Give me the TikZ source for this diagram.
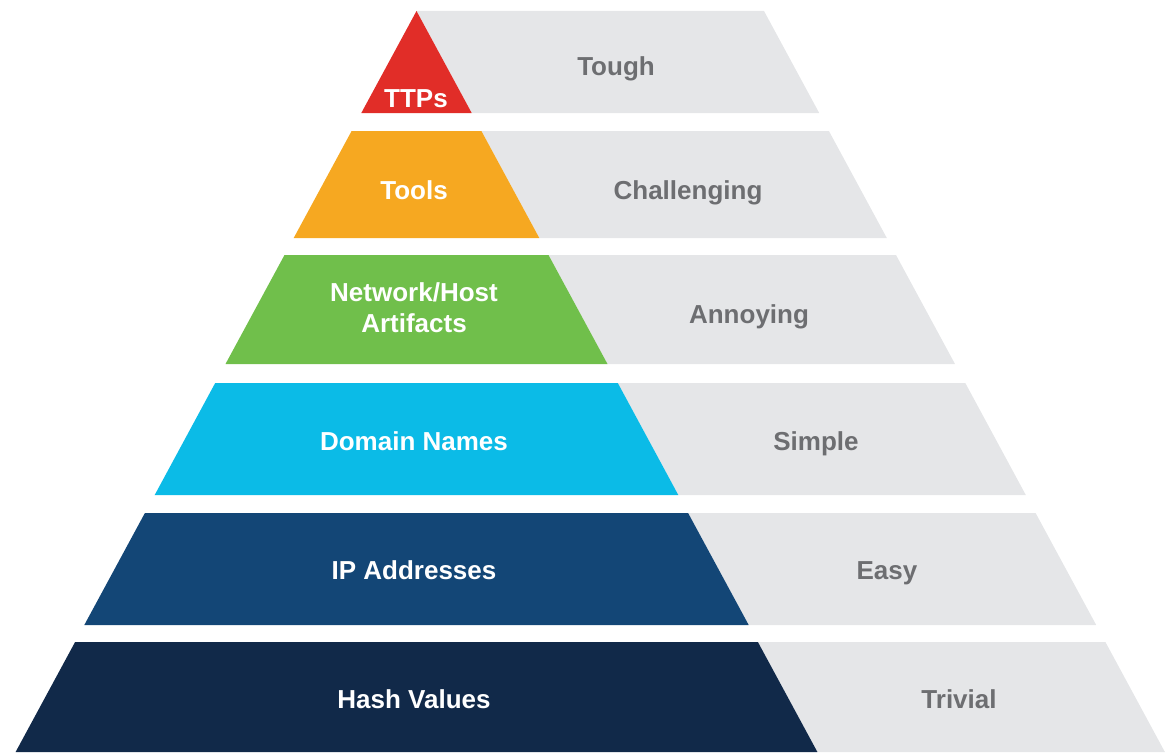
\documentclass[tikz,border=0pt]{standalone}
\usepackage{fontspec}
\setmainfont{Liberation Sans}
\definecolor{cred}{RGB}{225,45,40}
\definecolor{corange}{RGB}{246,168,33}
\definecolor{cgreen}{RGB}{112,191,75}
\definecolor{ccyan}{RGB}{11,187,231}
\definecolor{cblue}{RGB}{19,70,118}
\definecolor{cnavy}{RGB}{17,41,73}
\definecolor{cgray}{RGB}{229,230,232}
\definecolor{ctext}{RGB}{109,110,113}
\tikzset{
  lvl/.style={anchor=base, text=white, font=\fontsize{26}{31}\selectfont\bfseries, inner sep=0pt, align=center},
  diff/.style={anchor=base, text=ctext, font=\fontsize{26}{31}\selectfont\bfseries, inner sep=0pt},
}
\begin{document}
\begin{tikzpicture}[x=1pt,y=-1pt]
\useasboundingbox (0,0) rectangle (1169,752);
% gray backgrounds
\fill[cgray] (416.5,11) -- (764,11) -- (819.2,113) -- (471.7,113) -- cycle;
\fill[cgray] (481.4,131) -- (828.9,131) -- (886.8,238) -- (539.3,238) -- cycle;
\fill[cgray] (548.5,255) -- (896,255) -- (955,364) -- (607.5,364) -- cycle;
\fill[cgray] (617.8,383) -- (965.3,383) -- (1025.8,495) -- (678.3,495) -- cycle;
\fill[cgray] (688.1,513) -- (1035.6,513) -- (1096.2,625) -- (748.7,625) -- cycle;
\fill[cgray] (757.9,642) -- (1105.4,642) -- (1164.9,752) -- (817.4,752) -- cycle;
% coloured levels
\fill[cred] (416.5,11) -- (471.7,113) -- (361.3,113) -- cycle;
\fill[corange] (351.6,131) -- (481.4,131) -- (539.3,238) -- (293.7,238) -- cycle;
\fill[cgreen] (284.5,255) -- (548.5,255) -- (607.5,364) -- (225.5,364) -- cycle;
\fill[ccyan] (215.2,383) -- (617.8,383) -- (678.3,495) -- (154.7,495) -- cycle;
\fill[cblue] (144.9,513) -- (688.1,513) -- (748.7,625) -- (84.3,625) -- cycle;
\fill[cnavy] (75.1,642) -- (757.9,642) -- (817.4,752) -- (15.6,752) -- cycle;
% labels
\node[lvl] (ttps) at (416,107) {TTPs};
\node[diff] (tough) at (616,75) {Tough};
\node[lvl] (tools) at (414,199) {Tools};
\node[diff] (chal) at (688,199) {Challenging};
\node[lvl, anchor=center] (net) at (414,308) {Network/Host\\Artifacts};
\node[diff] (ann) at (749,323) {Annoying};
\node[lvl] (dom) at (414,450) {Domain Names};
\node[diff] (simp) at (816,450) {Simple};
\node[lvl] (ip) at (414,579) {IP Addresses};
\node[diff] (easy) at (887,579) {Easy};
\node[lvl] (hash) at (414,708) {Hash Values};
\node[diff] (triv) at (959,708) {Trivial};
\end{tikzpicture}
\end{document}
